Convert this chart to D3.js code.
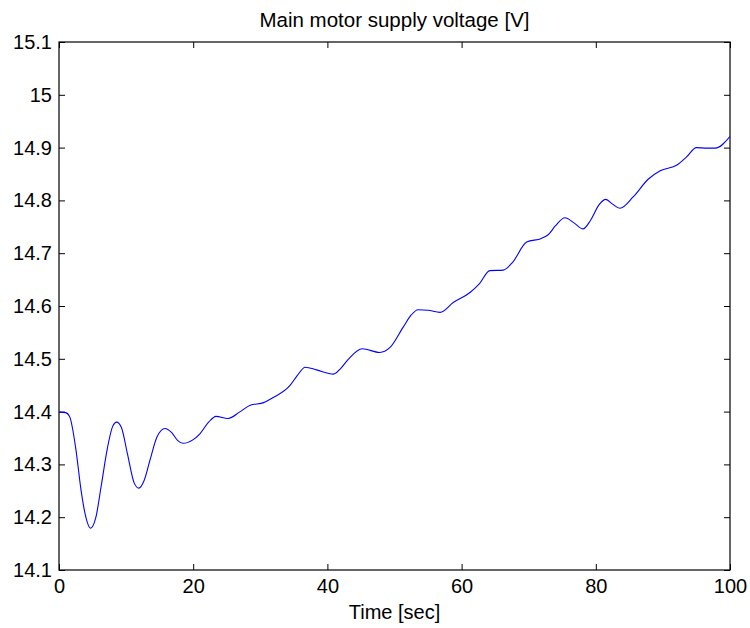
<!DOCTYPE html>
<html>
<head>
<meta charset="utf-8">
<script src="https://cdn.jsdelivr.net/npm/d3@7/dist/d3.min.js"></script>
<style>
  html, body { margin: 0; padding: 0; background: #fff; }
  svg { display: block; }
  text { font-family: "Liberation Sans", Arial, Helvetica, sans-serif; fill: #000; }
</style>
</head>
<body>
<svg id="chart" width="750" height="628"></svg>
<script>
const title = "Main motor supply voltage [V]";
const xLabel = "Time [sec]";
const xTicks = [0, 20, 40, 60, 80, 100];
const yTicks = [14.1, 14.2, 14.3, 14.4, 14.5, 14.6, 14.7, 14.8, 14.9, 15, 15.1];

const time = [0, 1, 1.6, 2.5, 3.3, 4, 4.7, 5.5, 6.3, 7.2, 8.0, 8.6, 9.3, 10.2, 11.2, 11.9,
  12.7, 13.6, 14.6, 15.8, 16.8, 17.7, 18.5, 20, 21, 22.3, 23.4, 25.2, 27, 28.5, 30.5, 32,
  34.4, 35.5, 36.7, 38.4, 40.9, 42, 43.1, 45.2, 47.8, 49.3, 51.3, 52.5, 53.5, 55, 56.8,
  58.8, 61.3, 62.7, 64.2, 66.2, 67.5, 69.7, 71.9, 72.9, 74, 75.4, 76.8, 78.1, 79.2, 80.5,
  81.5, 82.5, 83.6, 85.6, 87.8, 89.6, 92.1, 93.5, 95.0, 96.5, 97.8, 100];
const voltage = [14.399, 14.398, 14.39, 14.33, 14.25, 14.2, 14.179, 14.2, 14.26, 14.33, 14.372, 14.380, 14.37, 14.32, 14.265, 14.255,
  14.27, 14.31, 14.352, 14.368, 14.36, 14.345, 14.340, 14.347, 14.358, 14.38, 14.391, 14.387, 14.400, 14.412, 14.417, 14.427,
  14.449, 14.468, 14.484, 14.479, 14.471, 14.482, 14.499, 14.519, 14.512, 14.521, 14.560, 14.583, 14.593, 14.592, 14.588,
  14.607, 14.626, 14.643, 14.667, 14.668, 14.681, 14.721, 14.728, 14.735, 14.752, 14.767, 14.757, 14.746, 14.762, 14.792,
  14.802, 14.793, 14.785, 14.807, 14.840, 14.856, 14.867, 14.882, 14.900, 14.899, 14.899, 14.921];

const W = 750, H = 628;
const m = { left: 59, right: 20, top: 42, bottom: 58 };
const svg = d3.select("#chart");
const x = d3.scaleLinear().domain([0, 100]).range([m.left, W - m.right]);
const y = d3.scaleLinear().domain([14.1, 15.1]).range([H - m.bottom, m.top]);
const fs = 20;
const tl = 6;

svg.append("rect")
  .attr("x", x(0)).attr("y", y(15.1))
  .attr("width", x(100) - x(0)).attr("height", y(14.1) - y(15.1))
  .attr("fill", "none").attr("stroke", "#000").attr("stroke-width", 1.2);

const fmt = d => String(+d.toFixed(2));

const gx = svg.append("g").attr("transform", `translate(0,${y(14.1)})`)
  .call(d3.axisBottom(x).tickValues(xTicks).tickSize(-tl).tickPadding(9).tickFormat(fmt));
const gxt = svg.append("g").attr("transform", `translate(0,${y(15.1)})`)
  .call(d3.axisTop(x).tickValues(xTicks).tickSize(-tl).tickFormat(""));
const gy = svg.append("g").attr("transform", `translate(${x(0)},0)`)
  .call(d3.axisLeft(y).tickValues(yTicks).tickSize(-tl).tickPadding(7).tickFormat(fmt));
const gyr = svg.append("g").attr("transform", `translate(${x(100)},0)`)
  .call(d3.axisRight(y).tickValues(yTicks).tickSize(-tl).tickFormat(""));

[gx, gxt, gy, gyr].forEach(g => {
  g.select(".domain").remove();
  g.selectAll(".tick line").attr("stroke", "#000").attr("stroke-width", 1);
  g.selectAll("text").attr("font-size", fs).attr("font-family", '"Liberation Sans", Arial, sans-serif').attr("fill", "#000");
});
gx.selectAll("text").attr("dy", "0.71em");

const line = d3.line().x((d, i) => x(time[i])).y(d => y(d)).curve(d3.curveMonotoneX);
svg.append("path").datum(voltage)
  .attr("d", line).attr("fill", "none").attr("stroke", "#0000ff").attr("stroke-width", 1.1);

svg.append("text").attr("x", (x(0) + x(100)) / 2).attr("y", 27)
  .attr("text-anchor", "middle").attr("font-size", 20.5).text(title);
svg.append("text").attr("x", (x(0) + x(100)) / 2).attr("y", 619)
  .attr("text-anchor", "middle").attr("font-size", fs).text(xLabel);
</script>
</body>
</html>
